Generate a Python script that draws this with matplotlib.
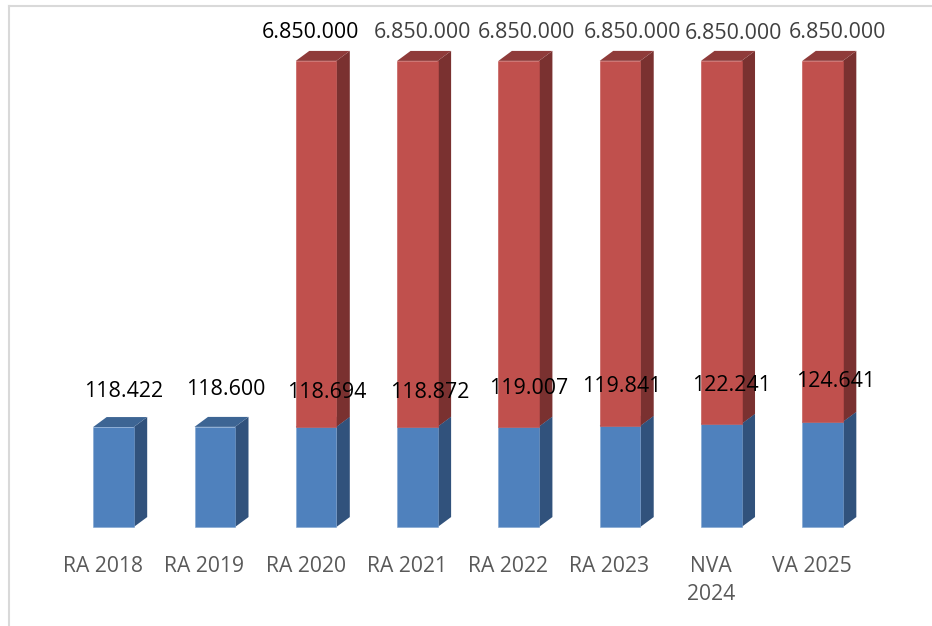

import numpy as np
import matplotlib
matplotlib.use("Agg")
import matplotlib.pyplot as plt
from matplotlib.patches import Polygon

plt.rcParams["font.family"] = ["Open Sans", "DejaVu Sans"]

categories = ["RA 2018", "RA 2019", "RA 2020", "RA 2021", "RA 2022", "RA 2023", "NVA\n2024", "VA 2025"]
blue_values = [118.422, 118.600, 118.694, 118.872, 119.007, 119.841, 122.241, 124.641]
# the red segments are not to scale with their labels, so these are the heights as drawn
red_heights = [0, 0, 433.3, 433.1, 433.0, 432.2, 429.8, 427.4]
blue_labels = ["118.422", "118.600", "118.694", "118.872", "119.007", "119.841", "122.241", "124.641"]
red_labels = ["", "", "6.850.000", "6.850.000", "6.850.000", "6.850.000", "6.850.000", "6.850.000"]

# label offsets from the bar centre / top, in pixels
blue_off_x = [10.5, 10.5, 11, 12, 10, 2, 10, 13]
blue_off_y = [35.5, 37.5, 34.5, 34.5, 38.5, 39, 38.5, 40]
red_off_x = [0, 0, -6, 5, 8, 12, 12, 15]
red_off_y = [28, 28, 28, 28, 28, 28, 27, 28]
red_colors = ["k", "k", "#000000", "#404040", "#404040", "#404040", "#404040", "#404040"]

BAR_W = 0.40
DX = 0.133
DY = 11.8
PX = 72 / 100


def box(ax, x, bottom, height, front, side, top, edge):
    left, right = x - BAR_W / 2, x + BAR_W / 2
    ytop = bottom + height
    ax.add_patch(Polygon([(right, bottom), (right + DX, bottom + DY), (right + DX, ytop + DY), (right, ytop)],
                         fc=side, ec="none", zorder=2))
    ax.add_patch(Polygon([(left, ytop), (left + DX, ytop + DY), (right + DX, ytop + DY), (right, ytop)],
                         fc=top, ec="none", zorder=2))
    ax.bar(x, height, BAR_W, bottom=bottom, color=front, edgecolor=edge, linewidth=0.4, zorder=3)


fig = plt.figure(figsize=(9.32, 6.26), dpi=100)
ax = fig.add_axes([0, 0, 1, 1])
ax.set_xlim(-1.12, 8.08)
ax.set_ylim(-117.2, 624.1)
ax.axis("off")

xs = np.arange(len(categories))
for i in xs:
    box(ax, i, 0, blue_values[i], "#4f81bd", "#31527c", "#3d6594", "#7ea3d0")
    if red_heights[i] > 0:
        box(ax, i, blue_values[i], red_heights[i], "#c0504d", "#7a3130", "#8f3b3a", "#c0504d")

for i in xs:
    ax.annotate(blue_labels[i], (i, blue_values[i]), xytext=(blue_off_x[i] * PX, blue_off_y[i] * PX),
                textcoords="offset points", ha="center", va="center", fontsize=15.4, color="k", zorder=5)
    if red_labels[i]:
        ax.annotate(red_labels[i], (i, blue_values[i] + red_heights[i]),
                    xytext=(red_off_x[i] * PX, red_off_y[i] * PX), textcoords="offset points",
                    ha="center", va="center", fontsize=15.4, color=red_colors[i], zorder=5)
    ax.annotate(categories[i], (i, 0), xytext=(-10.5 * PX, -29 * PX), textcoords="offset points",
                ha="center", va="top", fontsize=15.2, color="#595959", linespacing=1.42)

# chart frame, only left and top show
fig.add_artist(plt.Line2D([8.5 / 932, 8.5 / 932], [0, 1 - 6 / 626], color="#d9d9d9", lw=1.5))
fig.add_artist(plt.Line2D([8.5 / 932, 1], [1 - 6 / 626, 1 - 6 / 626], color="#d9d9d9", lw=1.5))

fig.savefig("out.png", dpi=100)
